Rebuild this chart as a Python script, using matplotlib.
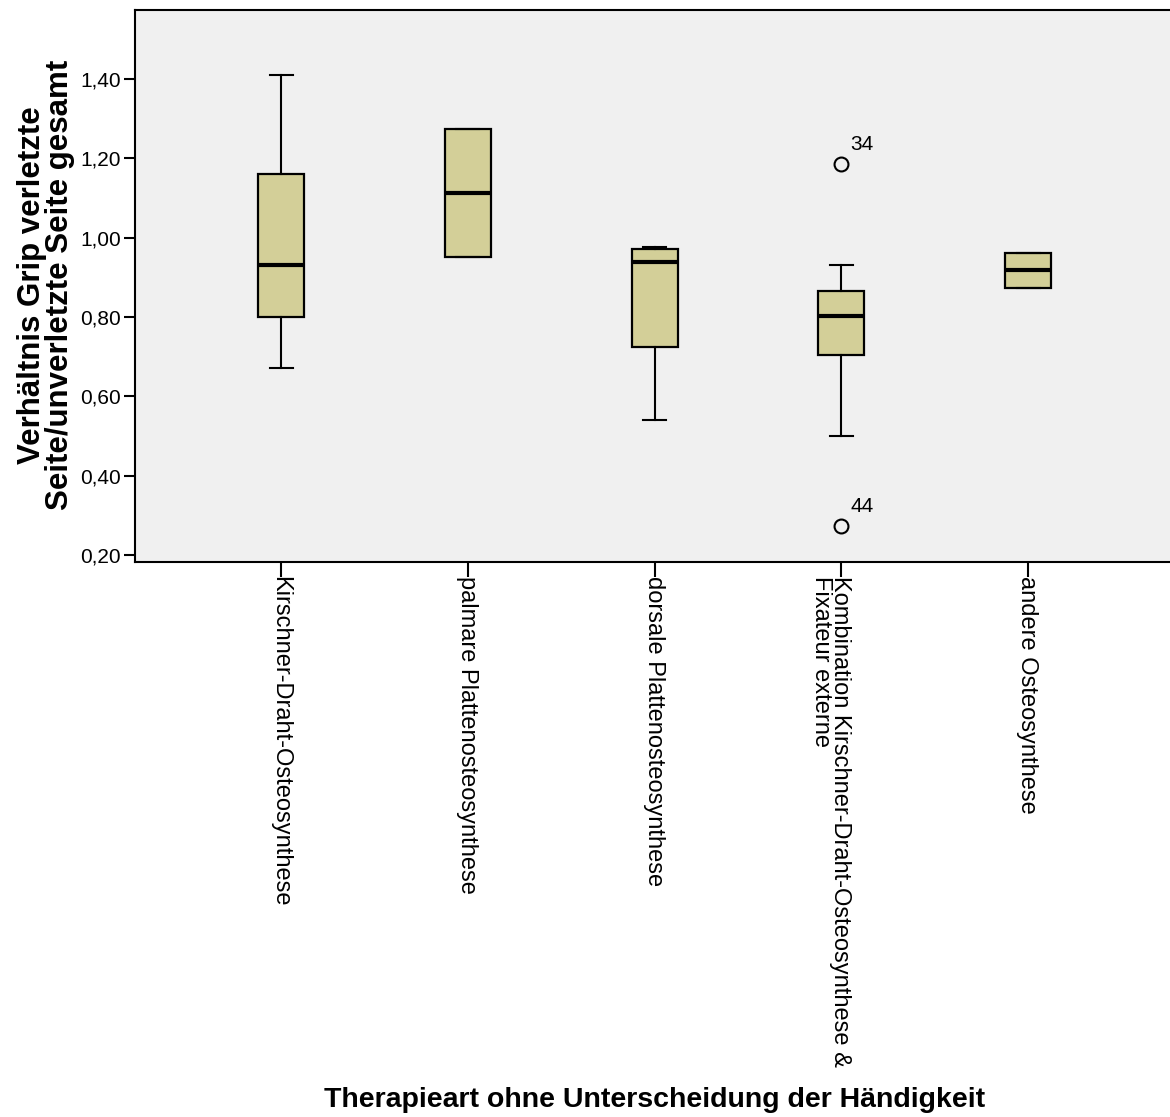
import matplotlib
matplotlib.use("Agg")
import matplotlib.pyplot as plt
import matplotlib.transforms as mtransforms
from matplotlib.ticker import FuncFormatter

plt.rcParams['font.family'] = ['Liberation Sans', 'DejaVu Sans']

# box statistics
categories = ["Kirschner-Draht-Osteosynthese",
              "palmare Plattenosteosynthese",
              "dorsale Plattenosteosynthese",
              "Kombination Kirschner-Draht-Osteosynthese &\nFixateur externe",
              "andere Osteosynthese"]
whis_lo = [0.671, 0.951, 0.541, 0.500, 0.873]
q1 = [0.800, 0.951, 0.725, 0.704, 0.873]
median = [0.931, 1.113, 0.938, 0.803, 0.919]
q3 = [1.160, 1.274, 0.971, 0.866, 0.962]
whis_hi = [1.410, 1.274, 0.976, 0.931, 0.962]
outliers = [[], [], [], [1.186, 0.273], []]
outlier_ids = [[], [], [], ["34", "44"], []]

yticks = [0.2, 0.4, 0.6, 0.8, 1.0, 1.2, 1.4]

W, H = 1170, 1117
fig = plt.figure(figsize=(W / 100, H / 100), dpi=100)
ax = fig.add_axes([135 / W, 1 - 562 / H, (1185 - 135) / W, (562 - 10) / H])
ax.set_facecolor('#F0F0F0')

stats = []
for i in range(len(categories)):
    stats.append(dict(whislo=whis_lo[i], q1=q1[i], med=median[i], q3=q3[i],
                      whishi=whis_hi[i], fliers=outliers[i]))

pos = list(range(1, len(categories) + 1))
ax.bxp(stats, positions=pos, widths=0.246, capwidths=0.123, patch_artist=True,
       boxprops=dict(facecolor='#D3CF98', edgecolor='black', linewidth=1.6),
       medianprops=dict(color='black', linewidth=3),
       whiskerprops=dict(color='black', linewidth=1.5),
       capprops=dict(color='black', linewidth=1.5),
       flierprops=dict(marker='o', markerfacecolor='none', markeredgecolor='black',
                       markersize=10, markeredgewidth=1.5))

for i, vals in enumerate(outliers):
    for v, lab in zip(vals, outlier_ids[i]):
        ax.annotate(lab, (pos[i], v), xytext=(9, 14), textcoords='offset pixels',
                    ha='left', va='baseline', fontsize=15)

ax.set_xlim(0.218, 5.84)
ax.set_ylim(0.182, 1.574)
ax.set_yticks(yticks)
ax.yaxis.set_major_formatter(FuncFormatter(lambda v, p: f"{v:.2f}".replace('.', ',')))
ax.tick_params(axis='y', direction='out', length=8, width=1.5, labelsize=15, pad=2)
ax.set_xticks(pos)
ax.set_xticklabels([''] * len(pos))
ax.tick_params(axis='x', direction='out', length=11, width=1.5)
for s in ax.spines.values():
    s.set_linewidth(1.5)

# category labels, rotated, first line centred on the tick
for p, lab in zip(pos, categories):
    tr = mtransforms.offset_copy(ax.get_xaxis_transform(), fig=fig, x=10, y=-14, units='dots')
    ax.text(p, 0, lab, transform=tr, rotation=270, rotation_mode='anchor',
            ha='left', va='top', fontsize=17, linespacing=0.85)

fig.text(46 / W, 1 - 285 / H, "Verhältnis Grip verletzte\nSeite/unverletzte Seite gesamt",
         rotation=90, ha='center', va='center', fontsize=22.5, fontweight='bold',
         linespacing=0.93)
fig.text(655 / W, 1 - 1100 / H, "Therapieart ohne Unterscheidung der Händigkeit",
         ha='center', va='center', fontsize=20.5, fontweight='bold')

fig.savefig("out.png", dpi=100)
